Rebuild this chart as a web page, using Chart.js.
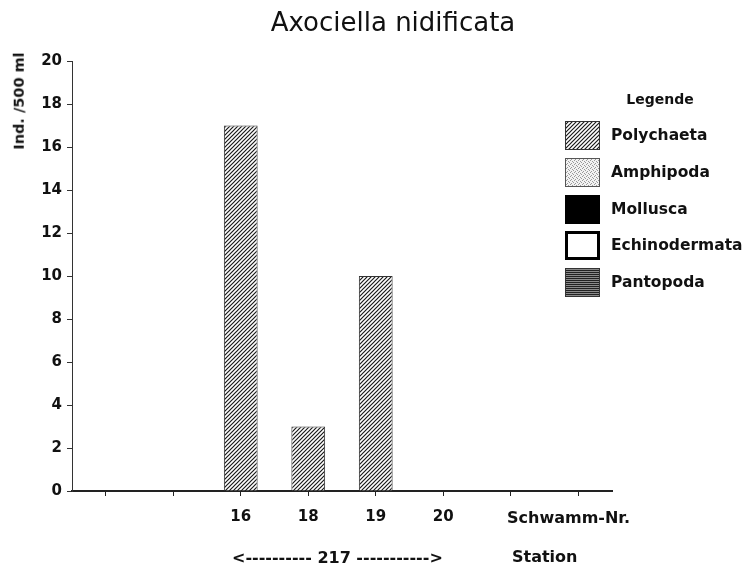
<!DOCTYPE html>
<html>
<head>
<meta charset="utf-8">
<script src="https://cdn.jsdelivr.net/npm/chart.js@4"></script>
<style>
  body { margin: 0; background: #fff; }
  #wrap { position: relative; width: 746px; height: 566px; background: #fff; }
  .t { position: absolute; font-family: 'DejaVu Sans', sans-serif; line-height: 1; white-space: nowrap; color: #111; }
  .b { font-weight: bold; }
</style>
</head>
<body>
<div id="wrap">
  <canvas id="chart" width="746" height="566"></canvas>
  <div class="t" style="font-size:26px;left:393px;top:9px;transform:translateX(-50%)">Axociella nidificata</div>
  <div class="t b" style="font-size:14.5px;left:19px;top:101px;transform:translate(-50%,-50%) rotate(-90deg)">Ind. /500 ml</div>
  <div class="t b" style="font-size:14px;left:660px;top:92px;transform:translateX(-50%)">Legende</div>
  <div id="legend"></div>
  <div class="t b" style="font-size:16px;left:507px;top:510px">Schwamm-Nr.</div>
  <div class="t b" style="font-size:16px;left:232px;top:549.5px">&lt;---------- 217 -----------&gt;</div>
  <div class="t b" style="font-size:16px;left:512px;top:548.5px">Station</div>
</div>
<script>
// Data
const sponges = ['', '', '16', '18', '19', '20', '', ''];
const polychaeta = [null, null, 17, 3, 10, 0, null, null];
const amphipoda = [null, null, 0, 0, 0, 0, null, null];
const mollusca = [null, null, 0, 0, 0, 0, null, null];
const echinodermata = [null, null, 0, 0, 0, 0, null, null];
const pantopoda = [null, null, 0, 0, 0, 0, null, null];
const yMin = 0, yMax = 20, yStep = 2;

// pattern tiles for the fills
function makeTile(kind) {
    const c = document.createElement('canvas');
    const g = c.getContext('2d');
    if (kind === 'hatch') {
        c.width = 4; c.height = 4;
        g.fillStyle = '#fff'; g.fillRect(0, 0, 4, 4);
        g.strokeStyle = '#1a1a1a'; g.lineWidth = 1.2;
        g.beginPath();
        g.moveTo(-1, 5); g.lineTo(5, -1);
        g.moveTo(-1, 1); g.lineTo(1, -1);
        g.moveTo(3, 5); g.lineTo(5, 3);
        g.stroke();
    } else if (kind === 'dots') {
        c.width = 4; c.height = 4;
        g.fillStyle = '#f2f2f2'; g.fillRect(0, 0, 4, 4);
        g.fillStyle = '#9a9a9a';
        g.fillRect(0, 0, 1, 1); g.fillRect(2, 1, 1, 1);
        g.fillRect(1, 2, 1, 1); g.fillRect(3, 3, 1, 1);
    } else if (kind === 'lines') {
        c.width = 2; c.height = 2;
        g.fillStyle = '#222'; g.fillRect(0, 0, 2, 1);
        g.fillStyle = '#8a8a8a'; g.fillRect(0, 1, 2, 1);
    } else if (kind === 'black') {
        c.width = 1; c.height = 1;
        g.fillStyle = '#000'; g.fillRect(0, 0, 1, 1);
    } else {
        c.width = 1; c.height = 1;
        g.fillStyle = '#fff'; g.fillRect(0, 0, 1, 1);
    }
    return c;
}

const groups = [
    { label: 'Polychaeta', data: polychaeta, fill: 'hatch', border: '#333', bw: 1 },
    { label: 'Amphipoda', data: amphipoda, fill: 'dots', border: '#555', bw: 1 },
    { label: 'Mollusca', data: mollusca, fill: 'black', border: '#000', bw: 1 },
    { label: 'Echinodermata', data: echinodermata, fill: 'white', border: '#000', bw: 3 },
    { label: 'Pantopoda', data: pantopoda, fill: 'lines', border: '#333', bw: 1 }
];

const canvas = document.getElementById('chart');
const ctx = canvas.getContext('2d');

Chart.defaults.font.family = "'DejaVu Sans', sans-serif";
Chart.defaults.color = '#111';

new Chart(ctx, {
    type: 'bar',
    data: {
        labels: sponges,
        datasets: groups.map(gr => ({
            label: gr.label,
            data: gr.data,
            backgroundColor: ctx.createPattern(makeTile(gr.fill), 'repeat'),
            borderColor: gr.border,
            borderWidth: 1,
            categoryPercentage: 1,
            barPercentage: 0.5
        }))
    },
    options: {
        responsive: false,
        animation: false,
        layout: { padding: { left: 0, right: 134, top: 61, bottom: 35 } },
        plugins: { legend: { display: false }, tooltip: { enabled: false } },
        scales: {
            x: {
                stacked: true,
                afterFit: s => { s.height = 40; },
                border: { color: '#222', width: 2 },
                grid: { offset: false, drawOnChartArea: false, tickLength: 5, color: '#222' },
                ticks: { padding: 12, font: { size: 15, weight: 'bold' }, color: '#111' }
            },
            y: {
                stacked: true,
                min: yMin,
                max: yMax,
                afterFit: s => { s.width = 72; },
                border: { color: '#333', width: 1 },
                grid: { drawOnChartArea: false, tickLength: 5, color: '#333' },
                ticks: { stepSize: yStep, padding: 5, font: { size: 15, weight: 'bold' }, color: '#111' }
            }
        }
    }
});

// legend
const legend = document.getElementById('legend');
groups.forEach((gr, i) => {
    const top = 121 + 36.75 * i;
    const sw = document.createElement('canvas');
    sw.width = 35; sw.height = 29;
    sw.style.cssText = 'position:absolute;left:565px;top:' + top + 'px';
    const g = sw.getContext('2d');
    g.fillStyle = g.createPattern(makeTile(gr.fill), 'repeat');
    g.fillRect(0, 0, 35, 29);
    g.strokeStyle = gr.border;
    g.lineWidth = gr.bw;
    g.strokeRect(gr.bw / 2, gr.bw / 2, 35 - gr.bw, 29 - gr.bw);
    legend.appendChild(sw);
    const tx = document.createElement('div');
    tx.className = 't b';
    tx.style.cssText = 'font-size:15.5px;left:611px;top:' + (top + 14.5 + 0.365 * 15.5 - 0.846 * 15.5) + 'px';
    tx.textContent = gr.label;
    legend.appendChild(tx);
});
</script>
</body>
</html>
